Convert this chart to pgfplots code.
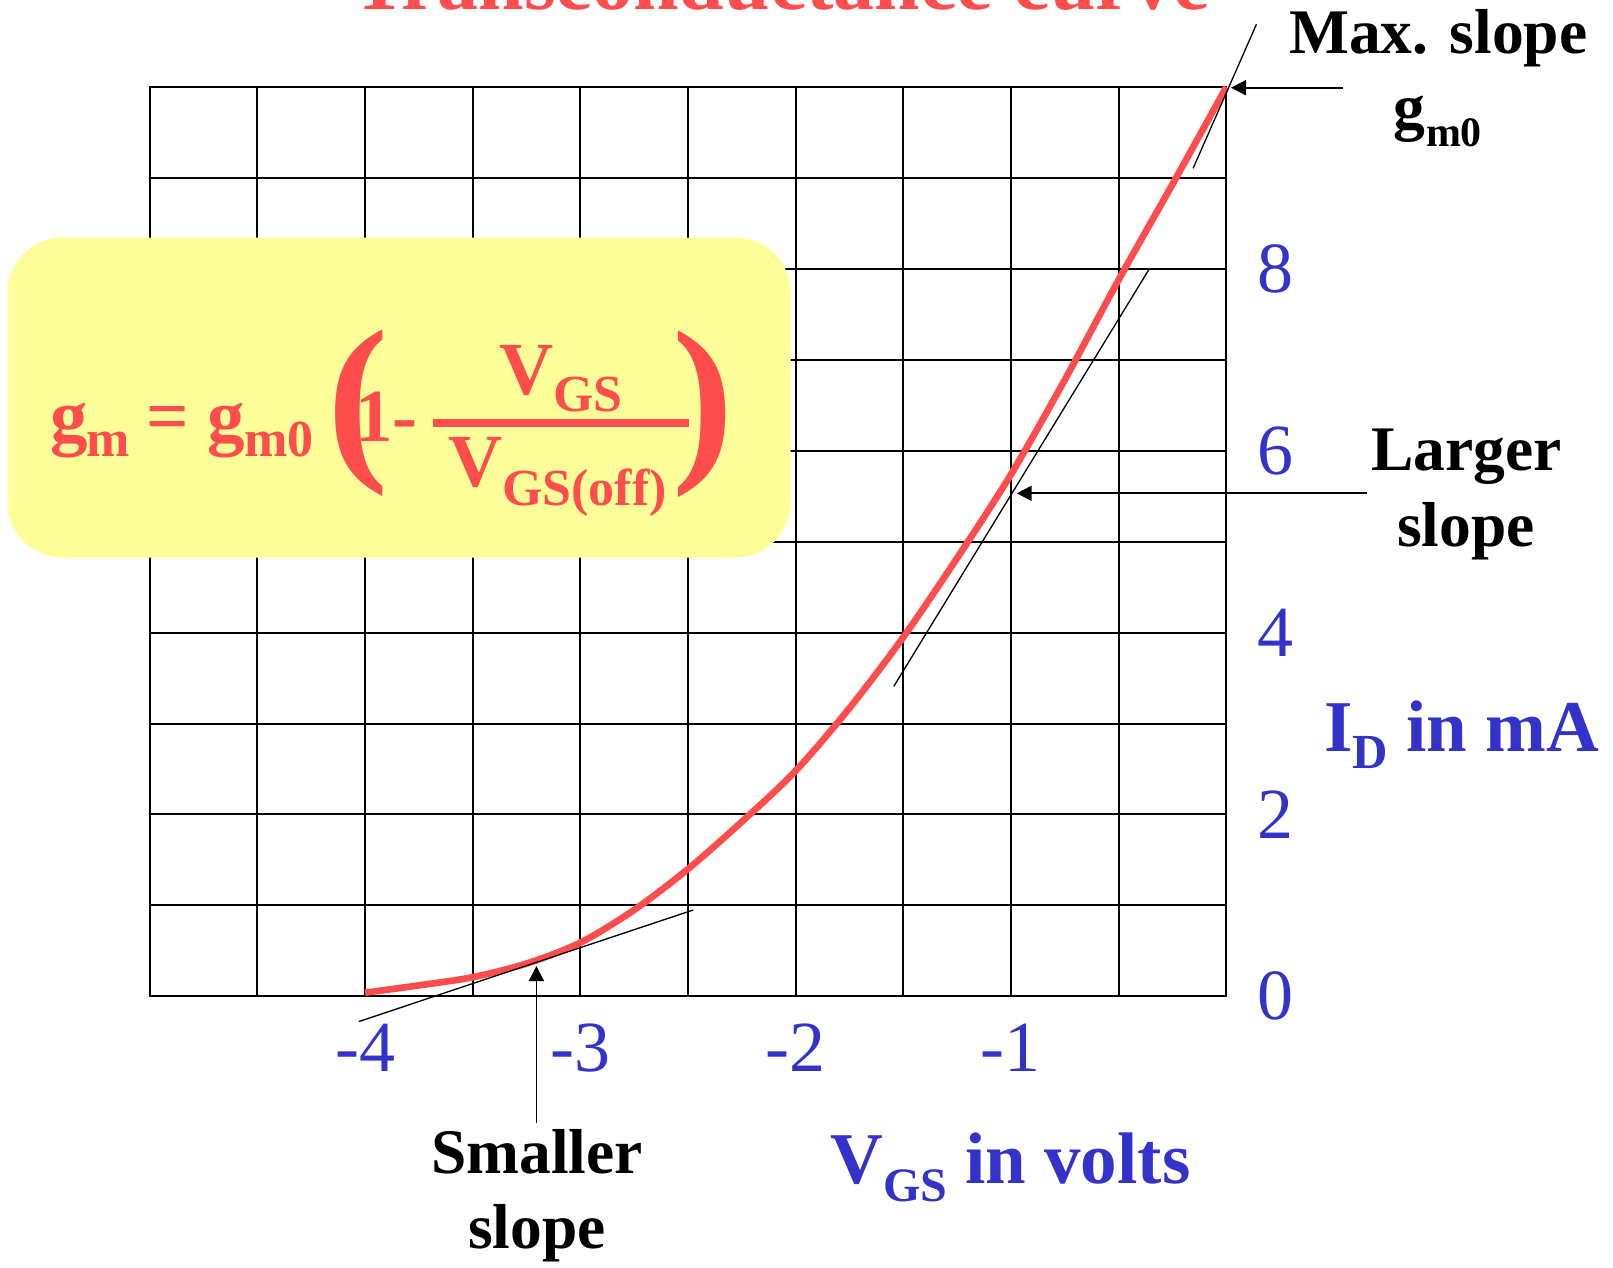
\documentclass[border=0pt]{standalone}
\usepackage{fontspec}
\setmainfont{Liberation Serif}
\usepackage{pgfplots}
\pgfplotsset{compat=1.18}
\usetikzlibrary{arrows.meta}
\definecolor{cred}{RGB}{255,77,77}
\definecolor{cblue}{RGB}{51,51,204}
\definecolor{cyel}{RGB}{255,255,153}
\newcommand\fmain{\fontsize{37.5}{45}\selectfont\bfseries}
\newcommand\fsub{\fontsize{26}{30}\selectfont\bfseries}
\newcommand\fann{\fontsize{31.75}{38}\selectfont\bfseries}
\newcommand\fannsub{\fontsize{21}{25}\selectfont\bfseries}
\begin{document}
\begin{tikzpicture}
\begin{axis}[
  at={(74.85pt,-498.15pt)}, anchor=south west,
  scale only axis, width=538.3pt, height=454.65pt,
  xmin=-5, xmax=0, ymin=0, ymax=10,
  xtick={-4,-3,-2,-1}, xticklabels={-4,-3,-2,-1},
  ytick={0,2,4,6,8}, yticklabels={0,2,4,6,8},
  minor xtick={-5,-4.5,...,0}, minor ytick={0,1,...,10},
  grid=both,
  major grid style={black, line width=1pt},
  minor grid style={black, line width=1pt},
  axis line style={black, line width=1pt},
  major tick length=0pt, minor tick length=0pt,
  yticklabel pos=right,
  xticklabel style={anchor=center, yshift=-25.85pt, font=\fontsize{36}{40}\selectfont, text=cblue},
  yticklabel style={anchor=center, xshift=24.35pt, font=\fontsize{36}{40}\selectfont, text=cblue},
  clip=false,
  every axis x label/.style={at={(rel axis cs:0.6319,-0.2057)}, anchor=base west, font=\fontsize{36.5}{40}\selectfont\bfseries, text=cblue, inner sep=0pt},
  every axis y label/.style={at={(rel axis cs:1.0908,0.269)}, anchor=base west, font=\fontsize{36.5}{40}\selectfont\bfseries, text=cblue, inner sep=0pt},
  xlabel={V\raisebox{-9.2pt}{\fontsize{24}{28}\selectfont GS} in volts},
  ylabel={I\raisebox{-8.3pt}{\fontsize{24.5}{28}\selectfont D} in mA},
]
\addplot[cred, line width=3.35pt, smooth] coordinates {
(-4,0.04) (-3.75,0.12) (-3.5,0.21) (-3.25,0.36) (-3,0.59) (-2.75,0.95)
(-2.5,1.40) (-2.25,1.92) (-2,2.48) (-1.75,3.17) (-1.5,3.95) (-1.25,4.82)
(-1,5.74) (-0.75,6.78) (-0.5,7.88) (-0.25,8.93) (0,10)};
\addplot[black, line width=0.65pt] coordinates {(-4.028,-0.277) (-2.476,0.949)};
\addplot[black, line width=0.65pt] coordinates {(-1.544,3.41) (-0.360,7.99)};
\addplot[black, line width=0.65pt] coordinates {(-0.154,9.106) (0.140,10.69)};
\end{axis}
\begin{scope}[x=0.5pt,y=-0.5pt, every node/.style={inner sep=0pt, outer sep=0pt}]
\fill[cyel, rounded corners=27.5pt] (7.5,237.5) rectangle (790.5,557.5);
\begin{scope}[every node/.append style={text=cred}]
\node[anchor=base west] at (50,441) {\fmain g};
\node[anchor=base west] at (86,456.7) {\fsub m};
\node[anchor=base west] at (146,441) {\fmain =};
\node[anchor=base west] at (207,441) {\fmain g};
\node[anchor=base west] at (244,456.7) {\fsub m0};
\node[anchor=center] at (358.3,413.4) {\fontsize{92}{100}\selectfont\bfseries (};
\node[anchor=base west] at (355,441.7) {\fmain 1-};
\fill[cred] (432.7,419) rectangle (688.8,427.3);
\node[anchor=base west] at (499,394) {\fmain V};
\node[anchor=base west] at (553,411.7) {\fsub GS};
\node[anchor=base west] at (448,486) {\fmain V};
\node[anchor=base west] at (502,505) {\fsub GS(off)};
\node[anchor=center] at (702.8,414) {\fontsize{92}{100}\selectfont\bfseries )};
\node[anchor=base] at (781,10) {\fontsize{41}{49}\selectfont\bfseries Transconductance curve};
\end{scope}
\node[anchor=base] at (1438.3,53.3) {\fann Max. slope};
\node[anchor=base west] at (1393,129) {\fann g};
\node[anchor=base west] at (1426,146.7) {\fannsub m0};
\node[anchor=base] at (1466.7,470) {\fann Larger};
\node[anchor=base] at (1466,546.7) {\fann slope};
\node[anchor=base] at (537,1173) {\fann Smaller};
\node[anchor=base] at (537,1248.3) {\fann slope};
\draw[line width=0.9pt,-{Triangle[length=7.5pt,width=7.5pt]}] (1343,87.7) -- (1231,87.7);
\draw[line width=0.9pt,-{Triangle[length=7.5pt,width=7.5pt]}] (1367,493.3) -- (1016.7,493.3);
\draw[line width=0.9pt,-{Triangle[length=7.5pt,width=7.5pt]}] (536.4,1123) -- (536.4,966);
\end{scope}
\pgfresetboundingbox
\path[use as bounding box] (0,0) rectangle (806.5pt,-634pt);
\end{tikzpicture}
\end{document}
